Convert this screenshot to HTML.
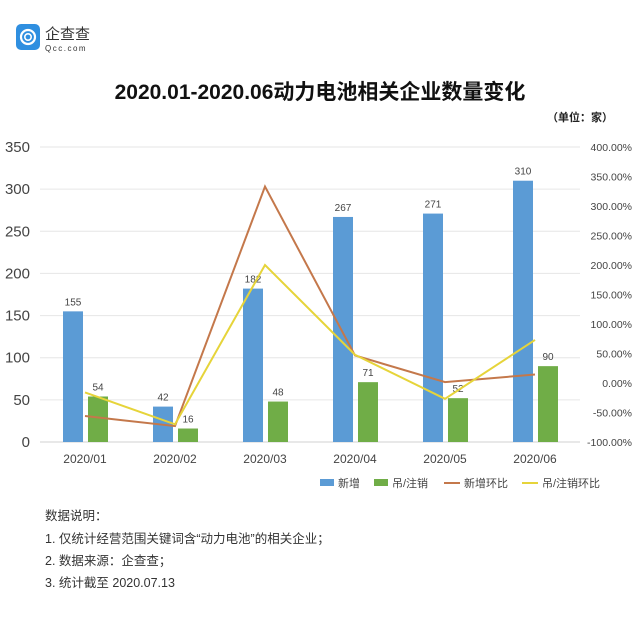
<!DOCTYPE html>
<html><head><meta charset="utf-8">
<style>
body{margin:0;background:#fff;width:640px;height:622px;overflow:hidden;font-family:"Liberation Sans","Noto Sans CJK SC",sans-serif;}
svg text{font-family:"Liberation Sans","Noto Sans CJK SC",sans-serif;}
</style></head>
<body>
<svg id="chart" width="640" height="622" viewBox="0 0 640 622">
  <g>
    <rect x="16" y="24" width="24" height="26" rx="5" fill="#2f8fe0"/>
    <circle cx="28" cy="37" r="7" fill="none" stroke="#fff" stroke-width="2.2"/>
    <circle cx="28" cy="37" r="3.2" fill="none" stroke="#fff" stroke-width="1.6"/>
    <text x="45" y="39" font-size="15" fill="#333">企查查</text>
    <text x="45" y="51" font-size="8" fill="#333" letter-spacing="1.5">Qcc.com</text>
  </g>
  <text x="320" y="99" font-size="21" font-weight="bold" text-anchor="middle" fill="#111">2020.01-2020.06动力电池相关企业数量变化</text>
  <text x="580" y="121" font-size="11" font-weight="bold" text-anchor="middle" fill="#222">（单位：家）</text>
  <g id="grid"></g><g id="bars"></g><g id="lines"></g><g id="axes"></g>
  <g font-size="11" fill="#444">
    <g><rect x="320" y="479" width="14" height="7" fill="#5b9bd5"/><text x="338" y="487">新增</text></g>
    <g><rect x="374" y="479" width="14" height="7" fill="#70ad47"/><text x="392" y="487">吊/注销</text></g>
    <g><line x1="444" y1="483" x2="460" y2="483" stroke="#c4784b" stroke-width="2"/><text x="464" y="487">新增环比</text></g>
    <g><line x1="522" y1="483" x2="538" y2="483" stroke="#e6d43a" stroke-width="2"/><text x="542" y="487">吊/注销环比</text></g>
  </g>
  <g font-size="12.5" fill="#333">
    <text x="45" y="520">数据说明：</text>
    <text x="45" y="543">1. 仅统计经营范围关键词含“动力电池”的相关企业；</text>
    <text x="45" y="565">2. 数据来源：企查查；</text>
    <text x="45" y="587">3. 统计截至 2020.07.13</text>
  </g>
</svg>
<script>
const categories=["2020/01","2020/02","2020/03","2020/04","2020/05","2020/06"];
const newCounts=[155,42,182,267,271,310];
const cancelCounts=[54,16,48,71,52,90];
const newRatio=[-56,-73,333,46.7,1.5,14.4];
const cancelRatio=[-16,-70,200,47.9,-26.8,73];
const leftTicks=[0,50,100,150,200,250,300,350];
const rightTicks=[-100,-50,0,50,100,150,200,250,300,350,400];

const NS="http://www.w3.org/2000/svg";
const X0=40,STEP=90,Y0=442,Y1=147;
const yL=v=>Y0-(v/350)*(Y0-Y1);
const yR=v=>Y0-((v+100)/500)*(Y0-Y1);
const xC=i=>X0+STEP*(i+0.5);
function mk(tag,attrs,parent,txt){const e=document.createElementNS(NS,tag);for(const k in attrs)e.setAttribute(k,attrs[k]);if(txt!==undefined)e.textContent=txt;parent.appendChild(e);return e;}
const grid=document.getElementById('grid'),bars=document.getElementById('bars'),lines=document.getElementById('lines'),axes=document.getElementById('axes');
leftTicks.forEach(t=>{
  const l=mk('line',{x1:X0,x2:580,y1:yL(t),y2:yL(t),stroke:t===0?'#d0d0d0':'#e6e6e6','stroke-width':1},grid);
  
  
  const tx=mk('text',{x:30,y:yL(t)+5,'font-size':15,'text-anchor':'end',fill:'#444'},axes,t);
  
  
});
rightTicks.forEach(t=>{
  const tx=mk('text',{x:632,y:yR(t)+4,'font-size':10.5,'text-anchor':'end',fill:'#444'},axes,t.toFixed(2)+'%');
  
  
});
categories.forEach((c,i)=>{
  const tx=mk('text',{x:xC(i),y:463,'font-size':12,'text-anchor':'middle',fill:'#444'},axes,c);
  
  
  const bx=xC(i)-22;
  const b=mk('rect',{x:bx,y:yL(newCounts[i]),width:20,height:Y0-yL(newCounts[i]),fill:'#5b9bd5'},bars);
  
  
  const bl=mk('text',{x:bx+10,y:yL(newCounts[i])-6,'font-size':10,'text-anchor':'middle',fill:'#444'},bars,newCounts[i]);
  
  
  const gx=xC(i)+3;
  const g=mk('rect',{x:gx,y:yL(cancelCounts[i]),width:20,height:Y0-yL(cancelCounts[i]),fill:'#70ad47'},bars);
  
  
  const gl=mk('text',{x:gx+10,y:yL(cancelCounts[i])-6,'font-size':10,'text-anchor':'middle',fill:'#444'},bars,cancelCounts[i]);
  
  
});
const p1=mk('polyline',{points:newRatio.map((v,i)=>xC(i)+','+yR(v)).join(' '),fill:'none',stroke:'#c4784b','stroke-width':2},lines);


const p2=mk('polyline',{points:cancelRatio.map((v,i)=>xC(i)+','+yR(v)).join(' '),fill:'none',stroke:'#e6d43a','stroke-width':2},lines);


</script>
</body></html>
